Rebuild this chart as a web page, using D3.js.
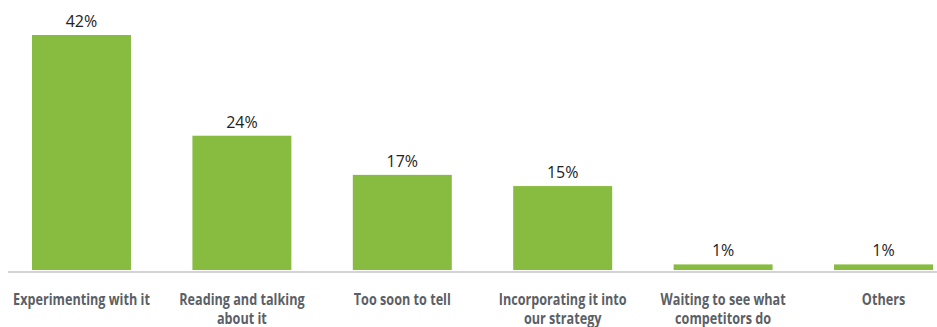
<!DOCTYPE html>
<html>
<head>
<meta charset="utf-8">
<script src="https://d3js.org/d3.v7.min.js"></script>
<style>
  body { margin: 0; background: #fff; }
  .val { font-family: "Open Sans", sans-serif; font-size: 16px; fill: #222; }
  .cat { font-family: "Open Sans", sans-serif; font-weight: bold; font-size: 16px; fill: #5b5f66; }
</style>
</head>
<body>
<div id="chart"></div>
<script>
// data
var categories = ["Experimenting with it", "Reading and talking|about it", "Too soon to tell",
                  "Incorporating it into|our strategy", "Waiting to see what|competitors do", "Others"];
var values = [42, 24, 17, 15, 1, 1];

var w = 937, h = 327;
var baseY = 270;

var svg = d3.select("#chart").append("svg")
    .attr("width", w)
    .attr("height", h);

var x = d3.scaleBand()
    .domain(categories)
    .range([32, 933])
    .paddingInner(0.383)
    .paddingOuter(0);

var y = d3.scaleLinear()
    .domain([0, 42])
    .range([baseY, 35]);

// bars
svg.selectAll("rect.bar")
    .data(values)
    .enter()
    .append("rect")
    .attr("class", "bar")
    .attr("x", function(d, i) { return x(categories[i]); })
    .attr("y", function(d) { return y(d); })
    .attr("width", x.bandwidth())
    .attr("height", function(d) { return baseY - y(d); })
    .attr("fill", "#87bc40");

// baseline
svg.append("line")
    .attr("x1", 8).attr("x2", w)
    .attr("y1", baseY + 2).attr("y2", baseY + 2)
    .attr("stroke", "#d3d3d3")
    .attr("stroke-width", 2);

// value labels
svg.selectAll("text.val")
    .data(values)
    .enter()
    .append("text")
    .attr("class", "val")
    .attr("text-anchor", "middle")
    .attr("x", function(d, i) { return x(categories[i]) + x.bandwidth() / 2; })
    .attr("y", function(d) { return y(d) - 8; })
    .text(function(d) { return d + "%"; });

// category labels (condensed look: squeeze the bold font horizontally)
var cats = svg.selectAll("text.cat")
    .data(categories)
    .enter()
    .append("text")
    .attr("class", "cat")
    .attr("text-anchor", "middle")
    .attr("x", 0)
    .attr("y", 305);

cats.selectAll("tspan")
    .data(function(d) { return d.split("|"); })
    .enter()
    .append("tspan")
    .attr("x", 0)
    .attr("dy", function(d, i) { return i == 0 ? 0 : 19; })
    .text(function(d) { return d; });

var firstW = cats.node().getComputedTextLength();
var squeeze = 137 / firstW;
cats.attr("transform", function(d) {
    return "translate(" + (x(d) + x.bandwidth() / 2) + ",0) scale(" + squeeze + ",1)";
});
</script>
</body>
</html>
